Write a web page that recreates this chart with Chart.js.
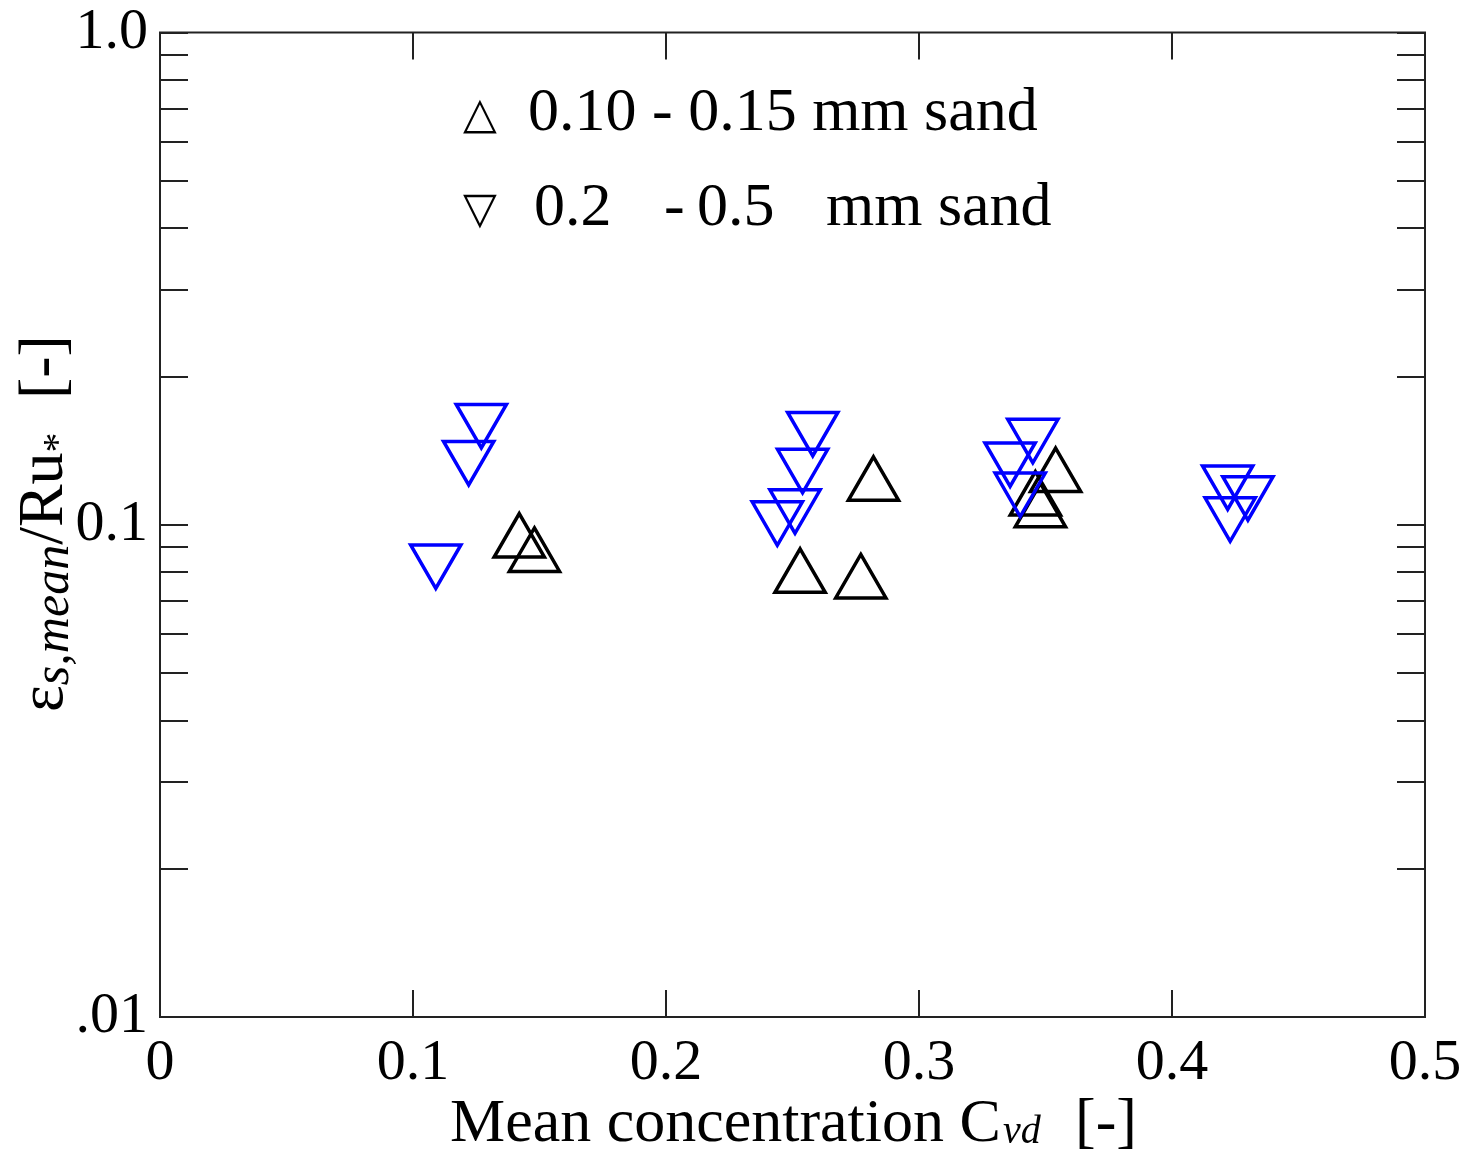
<!DOCTYPE html>
<html>
<head>
<meta charset="utf-8">
<script src="https://cdn.jsdelivr.net/npm/chart.js@4.4.1/dist/chart.umd.min.js"></script>
<style>
  body { margin: 0; background: #fff; }
  #wrap { width: 1470px; height: 1151px; }
</style>
</head>
<body>
<div id="wrap"><canvas id="plot" width="1470" height="1151"></canvas></div>
<script>
// 0.2 - 0.5 mm sand (blue, down triangles)
const coarseCvd = [0.127, 0.122, 0.109, 0.258, 0.254, 0.251, 0.244, 0.345, 0.336, 0.340, 0.422, 0.430, 0.423];
const coarseEps = [0.164, 0.138, 0.085, 0.158, 0.133, 0.110, 0.104, 0.153, 0.137, 0.119, 0.123, 0.117, 0.106];

// 0.10 - 0.15 mm sand (black, up triangles)
const fineCvd = [0.142, 0.148, 0.282, 0.253, 0.277, 0.354, 0.346, 0.348];
const fineEps = [0.092, 0.086, 0.120, 0.078, 0.076, 0.125, 0.112, 0.106];

const xTicks = [0, 0.1, 0.2, 0.3, 0.4, 0.5];
const xTickLabels = ['0', '0.1', '0.2', '0.3', '0.4', '0.5'];
const yTicks = [0.01, 0.02, 0.03, 0.04, 0.05, 0.06, 0.07, 0.08, 0.09,
                0.1, 0.2, 0.3, 0.4, 0.5, 0.6, 0.7, 0.8, 0.9, 1];
const yLabelValues = [0.01, 0.1, 1];
const yLabelText = ['.01', '0.1', '1.0'];

const serif = '"Liberation Serif", "Times New Roman", serif';
const toPoints = (xs, ys) => xs.map((x, i) => ({ x: x, y: ys[i] }));

// inward ticks on all four sides plus the frame
const frameTicks = {
    id: 'frameTicks',
    afterDatasetsDraw(chart) {
        const ctx = chart.ctx;
        const a = chart.chartArea;
        const xs = chart.scales.x, ys = chart.scales.y;
        ctx.save();
        ctx.strokeStyle = '#222';
        ctx.lineWidth = 2;
        ctx.beginPath();
        xTicks.forEach(v => {
            const px = Math.round(xs.getPixelForValue(v));
            ctx.moveTo(px, a.bottom); ctx.lineTo(px, a.bottom - 27);
            ctx.moveTo(px, a.top); ctx.lineTo(px, a.top + 27);
        });
        yTicks.forEach(v => {
            const py = Math.round(ys.getPixelForValue(v));
            ctx.moveTo(a.left, py); ctx.lineTo(a.left + 28, py);
            ctx.moveTo(a.right, py); ctx.lineTo(a.right - 28, py);
        });
        ctx.stroke();
        ctx.strokeRect(a.left, a.top, a.right - a.left, a.bottom - a.top);
        ctx.restore();
    }
};

// axis titles and the text legend
const titles = {
    id: 'titles',
    afterDraw(chart) {
        const ctx = chart.ctx;
        ctx.save();
        ctx.fillStyle = '#000';
        ctx.textBaseline = 'alphabetic';
        ctx.textAlign = 'left';

        // x title
        let x = 450;
        ctx.font = '62px ' + serif;
        ctx.fillText('Mean concentration C', x, 1141);
        x += ctx.measureText('Mean concentration C').width;
        ctx.font = 'italic 40px ' + serif;
        ctx.fillText('vd', x + 2, 1143);
        ctx.font = '62px ' + serif;
        ctx.fillText('[-]', 1075, 1141);

        // y title, reading upwards
        ctx.save();
        ctx.translate(62, 712);
        ctx.rotate(-Math.PI / 2);
        let t = 0;
        ctx.font = '64px ' + serif;
        ctx.fillText('\u03b5', t, 0);
        t += ctx.measureText('\u03b5').width;
        ctx.font = 'italic 50px ' + serif;
        ctx.fillText('s,mean', t, 6);
        t += ctx.measureText('s,mean').width;
        ctx.font = '64px ' + serif;
        ctx.fillText('/Ru', t, 0);
        t += ctx.measureText('/Ru').width;
        ctx.font = '40px ' + serif;
        ctx.fillText('*', t, 8);
        ctx.font = '64px ' + serif;
        ctx.fillText('[-]', 313, 0);
        ctx.restore();

        // legend
        ctx.font = '44px "DejaVu Sans"';
        ctx.fillText('\u25b3', 463, 128);
        ctx.fillText('\u25bd', 463, 223);
        ctx.font = '62px ' + serif;
        ctx.fillText('0.10 - 0.15 mm sand', 528, 130);
        ctx.fillText('0.2', 534, 225);
        ctx.fillText('-', 664, 225);
        ctx.fillText('0.5', 697, 225);
        ctx.fillText('mm sand', 826, 225);
        ctx.restore();
    }
};

const ctx = document.getElementById('plot').getContext('2d');
const chart = new Chart(ctx, {
    type: 'scatter',
    data: {
        datasets: [{
            label: '0.2 - 0.5 mm sand',
            data: toPoints(coarseCvd, coarseEps),
            pointStyle: 'triangle',
            rotation: 180,
            pointRadius: 29,
            pointHoverRadius: 29,
            borderWidth: 3.5,
            borderColor: '#0000ff',
            backgroundColor: 'rgba(0,0,0,0)'
        }, {
            label: '0.10 - 0.15 mm sand',
            data: toPoints(fineCvd, fineEps),
            pointStyle: 'triangle',
            pointRadius: 29,
            pointHoverRadius: 29,
            borderWidth: 3.5,
            borderColor: '#000000',
            backgroundColor: 'rgba(0,0,0,0)'
        }]
    },
    options: {
        responsive: false,
        animation: false,
        events: [],
        layout: { padding: { top: 32, right: 45, left: 0, bottom: 0 } },
        plugins: {
            legend: { display: false },
            tooltip: { enabled: false }
        },
        scales: {
            x: {
                type: 'linear',
                min: 0,
                max: 0.5,
                grid: { display: false, drawTicks: false },
                border: { display: false },
                afterBuildTicks: scale => { scale.ticks = xTicks.map(v => ({ value: v })); },
                afterFit: scale => {
                    scale.height = 134;
                    scale.paddingLeft = 0;
                    scale.paddingRight = 0;
                },
                ticks: {
                    autoSkip: false,
                    maxRotation: 0,
                    padding: 12,
                    color: '#000',
                    font: { family: serif, size: 58 },
                    callback: value => xTickLabels[xTicks.indexOf(value)]
                }
            },
            y: {
                type: 'logarithmic',
                min: 0.01,
                max: 1,
                grid: { display: false, drawTicks: false },
                border: { display: false },
                afterBuildTicks: scale => { scale.ticks = yTicks.map(v => ({ value: v })); },
                afterFit: scale => {
                    scale.width = 160;
                    scale.paddingTop = 0;
                    scale.paddingBottom = 0;
                },
                ticks: {
                    autoSkip: false,
                    padding: 12,
                    color: '#000',
                    font: { family: serif, size: 58 },
                    callback: value => {
                        const i = yLabelValues.indexOf(value);
                        return i < 0 ? '' : yLabelText[i];
                    }
                }
            }
        }
    },
    plugins: [frameTicks, titles]
});
</script>
</body>
</html>
